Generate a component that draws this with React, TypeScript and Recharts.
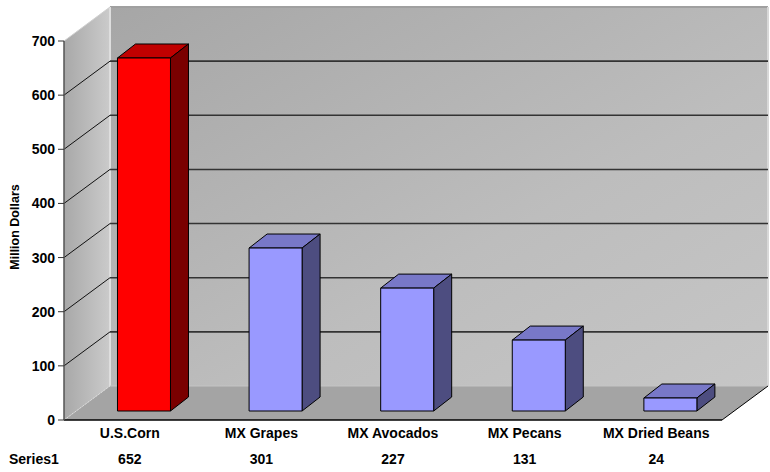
import React from 'react';
import { BarChart, Bar, XAxis, YAxis, CartesianGrid } from 'recharts';

const categories = ['U.S.Corn', 'MX Grapes', 'MX Avocados', 'MX Pecans', 'MX Dried Beans'];
const series1 = [652, 301, 227, 131, 24];
const yTicks = [0, 100, 200, 300, 400, 500, 600, 700];

const data = categories.map((name, i) => ({ name, value: series1[i] }));

const W = 770;
const H = 472;
const FONT = '"Liberation Sans", Arial, sans-serif';

// front plane of the plot box and the oblique offsets used for the 3D look
const PLOT = { left: 64, right: 722, top: 41, bottom: 420 };
const WALL = { dx: 46, dy: -34 };
const BAR_SHIFT = { dx: 14, dy: -9 };
const BAR_DEPTH = { dx: 18, dy: -14 };

const RED = { front: '#ff0000', top: '#c00000', side: '#7a0000' };
const BLUE = { front: '#9999ff', top: '#7878c8', side: '#4d4d80' };

function Bar3D(props: any) {
  const { x, y, width, height, index, payload } = props;
  if (width == null || height == null) return <g />;
  const first = index === 0 || payload?.name === categories[0];
  const p = first ? RED : BLUE;
  const fx = x + BAR_SHIFT.dx;
  const fy = y + BAR_SHIFT.dy;
  const { dx, dy } = BAR_DEPTH;
  return (
    <g stroke="#000" strokeWidth={1} strokeLinejoin="round">
      <polygon
        points={`${fx},${fy} ${fx + dx},${fy + dy} ${fx + width + dx},${fy + dy} ${fx + width},${fy}`}
        fill={p.top}
      />
      <polygon
        points={`${fx + width},${fy} ${fx + width + dx},${fy + dy} ${fx + width + dx},${fy + height + dy} ${fx + width},${fy + height}`}
        fill={p.side}
      />
      <rect x={fx} y={fy} width={width} height={height} fill={p.front} />
    </g>
  );
}

// each y gridline runs across the left wall and then along the back wall
function WallGridLine(props: any) {
  const { x1, x2, y1 } = props;
  if (y1 <= PLOT.top + 1 || y1 >= PLOT.bottom - 1) return <g />;
  const by = y1 + WALL.dy;
  return (
    <g>
      <line x1={x1} y1={y1} x2={x1 + WALL.dx} y2={by} stroke="#111" strokeWidth={1} />
      <line x1={x1 + WALL.dx} y1={by} x2={x2 + WALL.dx} y2={by} stroke="#333" strokeWidth={1.6} />
    </g>
  );
}

// category name with the data-table value underneath
function CategoryTick(props: any) {
  const { x, y, payload, index } = props;
  const i = payload?.index ?? index;
  const style = { fontFamily: FONT, fontSize: 14, fontWeight: 700 };
  return (
    <g>
      <text x={x} y={y + 18} textAnchor="middle" fill="#000" style={style}>
        {payload.value}
      </text>
      <text x={x} y={y + 44} textAnchor="middle" fill="#000" style={style}>
        {series1[i]}
      </text>
    </g>
  );
}

function Walls() {
  const { left, right, top, bottom } = PLOT;
  const bl = left + WALL.dx;
  const br = right + WALL.dx;
  const bt = top + WALL.dy;
  const bb = bottom + WALL.dy;
  return (
    <svg width={W} height={H} style={{ position: 'absolute', left: 0, top: 0 }}>
      <defs>
        <linearGradient id="leftWall" x1="0" y1="0" x2="1" y2="0">
          <stop offset="0" stopColor="#a8a8a8" />
          <stop offset="1" stopColor="#cbcbcb" />
        </linearGradient>
        <linearGradient id="backWall" x1="0" y1="0" x2="1" y2="1">
          <stop offset="0" stopColor="#a6a6a6" />
          <stop offset="0.6" stopColor="#bdbdbd" />
          <stop offset="1" stopColor="#c6c6c6" />
        </linearGradient>
      </defs>
      <polygon points={`${bl},${bt} ${br},${bt} ${br},${bb} ${bl},${bb}`} fill="url(#backWall)" />
      <polygon points={`${left},${top} ${bl},${bt} ${bl},${bb} ${left},${bottom}`} fill="url(#leftWall)" />
      <polygon points={`${left},${bottom} ${bl},${bb} ${br},${bb} ${right},${bottom}`} fill="#a4a4a4" />
      <line x1={bl} y1={bt} x2={br} y2={bt} stroke="#a0a0a0" strokeWidth={2} />
      <line x1={br} y1={bt} x2={br} y2={bb} stroke="#d8d8d8" strokeWidth={2} />
      <line x1={bl} y1={bt} x2={bl} y2={bb} stroke="#dedede" strokeWidth={2} />
      <line x1={left} y1={top} x2={bl} y2={bt} stroke="#d0d0d0" strokeWidth={1} />
      <line x1={bl} y1={bb} x2={br} y2={bb} stroke="#c4c4c4" strokeWidth={1} />
      <line x1={left} y1={bottom} x2={bl} y2={bb} stroke="#e6e6e6" strokeWidth={1} strokeDasharray="1 1" />
      <line x1={right} y1={bottom} x2={br} y2={bb} stroke="#000" strokeWidth={1} />
      <text
        transform={`translate(19, 227) rotate(-90)`}
        textAnchor="middle"
        fill="#000"
        style={{ fontFamily: FONT, fontSize: 12.5, fontWeight: 700 }}
      >
        Million Dollars
      </text>
      <text x={9} y={464} fill="#000" style={{ fontFamily: FONT, fontSize: 14, fontWeight: 700 }}>
        Series1
      </text>
    </svg>
  );
}

export default function App() {
  return (
    <div style={{ position: 'absolute', left: 0, top: 0, width: W, height: H, background: '#fff' }}>
      <Walls />
      <div style={{ position: 'absolute', left: 0, top: 0 }}>
        <BarChart
          width={W}
          height={H}
          data={data}
          margin={{ top: PLOT.top, right: W - PLOT.right, bottom: 0, left: 10 }}
          barCategoryGap="30%"
        >
          <CartesianGrid horizontal={WallGridLine} vertical={false} />
          <XAxis
            dataKey="name"
            height={H - PLOT.bottom}
            axisLine={{ stroke: '#000', strokeWidth: 1.5 }}
            tickLine={false}
            tickSize={0}
            tickMargin={0}
            interval={0}
            tick={CategoryTick}
          />
          <YAxis
            type="number"
            domain={[0, 700]}
            ticks={yTicks}
            interval={0}
            width={54}
            tickSize={6}
            tickMargin={3}
            axisLine={{ stroke: '#555', strokeWidth: 1.5 }}
            tickLine={{ stroke: '#333' }}
            tick={{ fill: '#000', fontSize: 14, fontWeight: 700, fontFamily: FONT }}
          />
          <Bar dataKey="value" shape={Bar3D} isAnimationActive={false} />
        </BarChart>
      </div>
    </div>
  );
}
